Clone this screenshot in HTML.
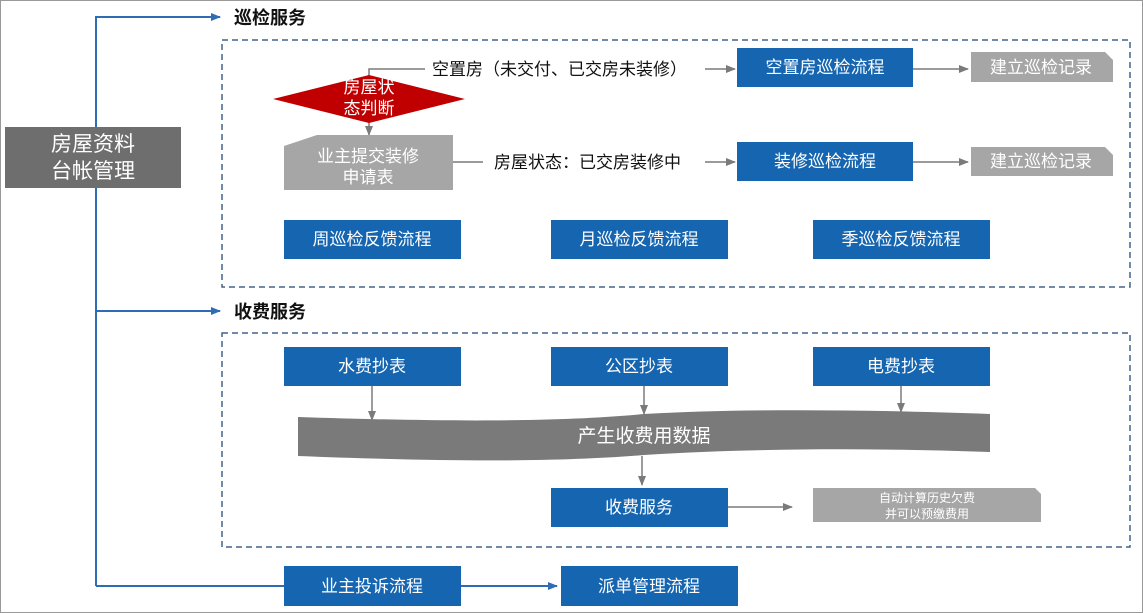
<!DOCTYPE html>
<html><head><meta charset="utf-8"><style>
body{margin:0;width:1143px;height:613px;background:#fff;overflow:hidden;font-family:"Liberation Sans","Noto Sans CJK SC",sans-serif}
svg{position:absolute;left:0;top:0}
text{font-family:"Liberation Sans","Noto Sans CJK SC",sans-serif}
</style></head><body>
<svg width="1143" height="613" viewBox="0 0 1143 613">
<defs>
<marker id="ab" markerWidth="10" markerHeight="10" refX="9" refY="5" orient="auto" markerUnits="userSpaceOnUse"><path d="M0,1 L10,5 L0,9 Z" fill="#2e6db4"/></marker>
<marker id="ag" markerWidth="10" markerHeight="10" refX="9" refY="5" orient="auto" markerUnits="userSpaceOnUse"><path d="M0,1 L10,5 L0,9 Z" fill="#7a7a7a"/></marker>
</defs>
<rect x="0.5" y="0.5" width="1142" height="612" fill="none" stroke="#999"/>
<g stroke="#2e6db4" stroke-width="2" fill="none">
<path d="M96,586 V17 H220" marker-end="url(#ab)"/>
<path d="M96,311 H220" marker-end="url(#ab)"/>
<path d="M96,586 H284"/>
<path d="M461,586 H557" marker-end="url(#ab)"/>
</g>
<rect x="5" y="127" width="176" height="61" fill="#6e6e6e"/>
<text x="93" y="151" fill="#fff" font-size="21" text-anchor="middle">房屋资料</text>
<text x="93" y="178" fill="#fff" font-size="21" text-anchor="middle">台帐管理</text>
<text x="234" y="24" font-size="18" font-weight="bold" fill="#111">巡检服务</text>
<text x="234" y="318" font-size="18" font-weight="bold" fill="#111">收费服务</text>
<rect x="222" y="40" width="908" height="247" fill="none" stroke="#41648a" stroke-width="1.5" stroke-dasharray="6,4"/>
<rect x="222" y="333" width="908" height="214" fill="none" stroke="#41648a" stroke-width="1.5" stroke-dasharray="6,4"/>
<g stroke="#7a7a7a" stroke-width="1.5" fill="none">
<path d="M369,76 V69 H425"/>
<path d="M705,69 H735" marker-end="url(#ag)"/>
<path d="M913,69 H968" marker-end="url(#ag)"/>
<path d="M369,121 V135" marker-end="url(#ag)"/>
<path d="M453,162 H483"/>
<path d="M705,162 H735" marker-end="url(#ag)"/>
<path d="M913,162 H968" marker-end="url(#ag)"/>
<path d="M372,386 V420" marker-end="url(#ag)"/>
<path d="M644,386 V414" marker-end="url(#ag)"/>
<path d="M901,386 V412" marker-end="url(#ag)"/>
<path d="M642,456 V485" marker-end="url(#ag)"/>
<path d="M728,507 H792" marker-end="url(#ag)"/>
</g>
<path d="M273,99 L369,75 L465,99 L369,123 Z" fill="#c00000"/>
<text x="369" y="93" fill="#fff" font-size="17" text-anchor="middle">房屋状</text>
<text x="369" y="114" fill="#fff" font-size="17" text-anchor="middle">态判断</text>
<text x="432" y="75" font-size="17" fill="#111">空置房（未交付、已交房未装修）</text>
<text x="494" y="168" font-size="17" fill="#111">房屋状态：已交房装修中</text>
<path d="M284,146 L317,135 H453 V190 H284 Z" fill="#a6a6a6"/>
<text x="368" y="162" fill="#fff" font-size="17" text-anchor="middle">业主提交装修</text>
<text x="368" y="183" fill="#fff" font-size="17" text-anchor="middle">申请表</text>
<g fill="#1565b0">
<rect x="737" y="48" width="176" height="39"/>
<rect x="737" y="142" width="176" height="39"/>
<rect x="284" y="220" width="177" height="39"/>
<rect x="551" y="220" width="177" height="39"/>
<rect x="813" y="220" width="177" height="39"/>
<rect x="284" y="347" width="177" height="39"/>
<rect x="551" y="347" width="177" height="39"/>
<rect x="813" y="347" width="177" height="39"/>
<rect x="551" y="488" width="177" height="39"/>
<rect x="284" y="566" width="177" height="40"/>
<rect x="561" y="566" width="177" height="40"/>
</g>
<g fill="#fff" font-size="17" text-anchor="middle">
<text x="825" y="73">空置房巡检流程</text>
<text x="825" y="167">装修巡检流程</text>
<text x="372" y="245">周巡检反馈流程</text>
<text x="639" y="245">月巡检反馈流程</text>
<text x="901" y="245">季巡检反馈流程</text>
<text x="372" y="372">水费抄表</text>
<text x="639" y="372">公区抄表</text>
<text x="901" y="372">电费抄表</text>
<text x="639" y="513">收费服务</text>
<text x="372" y="592">业主投诉流程</text>
<text x="649" y="592">派单管理流程</text>
</g>
<path d="M971,52 H1105 L1113,60 V82 H971 Z" fill="#a6a6a6"/>
<path d="M971,147 H1105 L1113,155 V176 H971 Z" fill="#a6a6a6"/>
<text x="1041" y="73" fill="#fff" font-size="17" text-anchor="middle">建立巡检记录</text>
<text x="1041" y="167" fill="#fff" font-size="17" text-anchor="middle">建立巡检记录</text>
<path d="M813,488 H1035 L1041,494 V522 H813 Z" fill="#a6a6a6"/>
<text x="927" y="502" fill="#fff" font-size="12" text-anchor="middle">自动计算历史欠费</text>
<text x="927" y="518" fill="#fff" font-size="12" text-anchor="middle">并可以预缴费用</text>
<path d="M298,417 C450,422 560,422 644,414 C750,408 880,410 990,414 V452 C880,448 750,448 644,455 C560,462 450,462 298,456 Z" fill="#7a7a7a"/>
<text x="644" y="442" fill="#fff" font-size="19" text-anchor="middle">产生收费用数据</text>
</svg>
</body></html>
